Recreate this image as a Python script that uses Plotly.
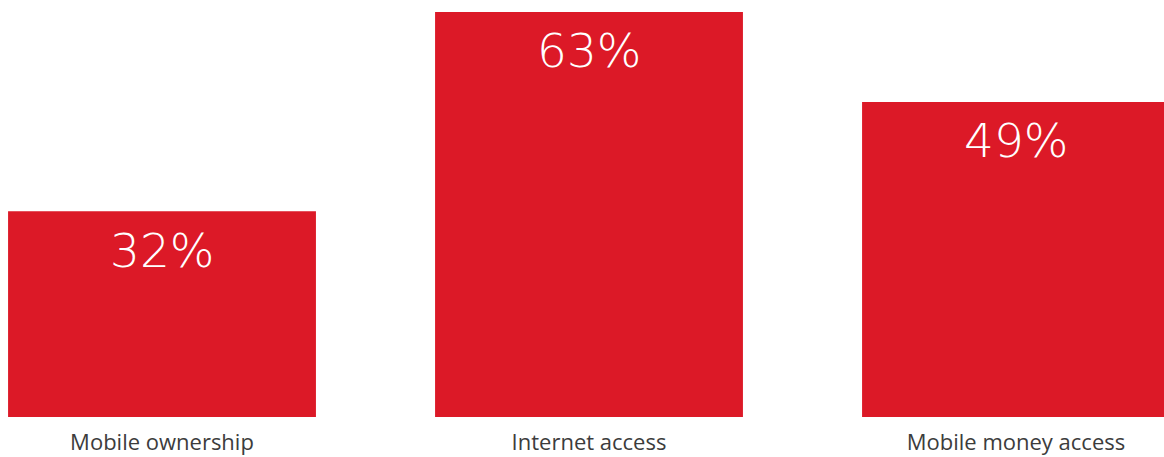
import plotly.graph_objects as go

categories = ["Mobile ownership", "Internet access", "Mobile money access"]
values = [32, 63, 49]

BAR_RED = "#DC1927"
LABEL_GREY = "#3c3c3c"

fig = go.Figure(
    go.Bar(
        x=categories,
        y=values,
        marker=dict(color=BAR_RED, line=dict(width=0)),
        width=0.721,
        hoverinfo="skip",
    )
)

# Percentage labels sit inside each bar, just below its top edge
for cat, val in zip(categories, values):
    fig.add_annotation(
        x=cat,
        y=val,
        text=f"{val}%",
        showarrow=False,
        yanchor="middle",
        yshift=-39,
        font=dict(family="DejaVu Sans", size=47, color="white", weight=200),
    )

fig.update_layout(
    width=1164,
    height=457,
    margin=dict(l=0, r=0, t=0, b=40),
    plot_bgcolor="white",
    paper_bgcolor="white",
    showlegend=False,
    xaxis=dict(
        type="category",
        range=[-0.3794, 2.3466],
        automargin=False,
        showgrid=False,
        showline=False,
        zeroline=False,
        ticks="",
        tickfont=dict(family="Open Sans", size=22, color=LABEL_GREY),
        ticklabelstandoff=10,
    ),
    yaxis=dict(
        range=[0, 64.85],
        automargin=False,
        visible=False,
        showgrid=False,
        zeroline=False,
    ),
)

fig.write_html("out.html")
